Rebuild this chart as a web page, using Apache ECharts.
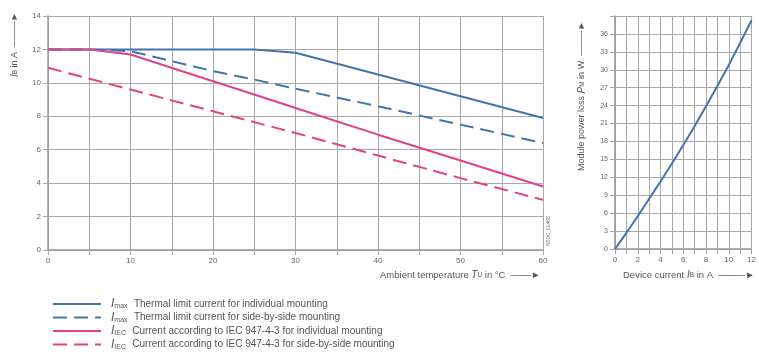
<!DOCTYPE html>
<html>
<head>
<meta charset="utf-8">
<script src="https://cdn.jsdelivr.net/npm/echarts@6/dist/echarts.min.js"></script>
<style>
  html, body { margin: 0; padding: 0; background: #fff; }
  #chart { width: 759px; height: 360px; }
</style>
</head>
<body>
<div id="chart"></div>
<script>
// left diagram: current vs ambient temperature
const ambientTemp = [0, 5, 10, 20, 25, 30, 40, 50, 60];
const imaxSingle = [12, 12, 12, 12, 12, 11.8, 10.5, 9.2, 7.9];
const imaxSide   = [12, 12, 11.9, 10.7, 10.2, 9.65, 8.6, 7.5, 6.4];
const iecSingle  = [12, 12, 11.7, 10.1, 9.3, 8.5, 6.9, 5.35, 3.8];
const iecSide    = [10.9, 10.25, 9.6, 8.3, 7.65, 7.0, 5.65, 4.3, 3.0];

// right diagram: module power loss vs device current
const deviceCurrent = [0, 1, 2, 3, 4, 5, 6, 7, 8, 9, 10, 11, 12];
const powerLoss = [0, 2.7, 5.5, 8.4, 11.3, 14.3, 17.4, 20.6, 23.9, 27.3, 30.8, 34.5, 38.3];

const legendNames = [
  'Imax individual', 'Imax side', 'IIEC individual', 'IIEC side'
];
const legendText = {
  'Imax individual': '{i|I}{s|max} {t|Thermal limit current for individual mounting}',
  'Imax side': '{i|I}{s|max} {t|Thermal limit current for side-by-side mounting}',
  'IIEC individual': '{i|I}{s|IEC} {t|Current according to IEC 947-4-3 for individual mounting}',
  'IIEC side': '{i|I}{s|IEC} {t|Current according to IEC 947-4-3 for side-by-side mounting}'
};

const blue = '#4374ad';
const pink = '#e0418a';
const gridCol = '#a8a8a8';
const font = 'Liberation Sans';

function pairs(xs, ys) {
  return xs.map((x, i) => [x, ys[i]]);
}

function axisCommon() {
  return {
    type: 'value',
    axisLine: { show: true, lineStyle: { color: '#999', width: 1.5 } },
    axisTick: { show: true, length: 5, lineStyle: { color: gridCol } },
    splitLine: { show: true, lineStyle: { color: gridCol, width: 1 } },
    axisLabel: { color: '#666', fontSize: 8, fontFamily: font, margin: 7 }
  };
}

// rich styles for axis titles with italic symbol + subscript
const nameRich = {
  i: { fontStyle: 'italic', fontSize: 10, fill: '#555', fontFamily: font },
  s: { fontSize: 6.5, fill: '#555', fontFamily: font }
};

const chart = echarts.init(document.getElementById('chart'));

const option = {
  animation: false,
  backgroundColor: '#fff',
  grid: [
    { left: 48, top: 16, width: 495, height: 234 },
    { left: 615, top: 16, width: 139, height: 233 }
  ],
  xAxis: [
    Object.assign(axisCommon(), {
      gridIndex: 0, min: 0, max: 60, interval: 5,
      axisLabel: { color: '#666', fontSize: 8, fontFamily: font, margin: 7,
        formatter: v => (v % 10 === 0 ? v : '') }
    }),
    Object.assign(axisCommon(), {
      gridIndex: 1, min: 0, max: 12, interval: 1,
      axisLabel: { color: '#666', fontSize: 8, fontFamily: font, margin: 7,
        formatter: v => (v % 2 === 0 ? v : '') }
    })
  ],
  yAxis: [
    Object.assign(axisCommon(), { gridIndex: 0, min: 0, max: 14, interval: 2 }),
    Object.assign(axisCommon(), {
      gridIndex: 1, min: 0, max: 39, interval: 3,
      axisLabel: { color: '#666', fontSize: 7, fontFamily: font, margin: 7,
        formatter: v => (v === 39 ? '' : v) }
    })
  ],
  legend: {
    orient: 'vertical',
    left: 52,
    top: 298,
    height: 62,
    padding: 0,
    itemWidth: 48,
    itemHeight: 8,
    itemGap: 1.5,
    itemStyle: { opacity: 0 },
    data: legendNames,
    formatter: name => legendText[name],
    textStyle: {
      padding: [0, 0, 0, 5],
      rich: {
        i: { fontSize: 12, fontStyle: 'italic', color: '#555', fontFamily: font, lineHeight: 12 },
        s: { fontSize: 7, color: '#555', fontFamily: font, padding: [5, 3, 0, 0], lineHeight: 12 },
        t: { fontSize: 10, color: '#555', fontFamily: font, lineHeight: 12 }
      }
    }
  },
  graphic: [
    { type: 'text', x: 15, y: 77, rotation: Math.PI / 2,
      style: { text: '{i|I}{s|B} in A  ────►', align: 'left', verticalAlign: 'middle',
        fill: '#555', font: '9px ' + font, rich: nameRich } },
    { type: 'text', x: 380, y: 275,
      style: { text: 'Ambient temperature {i|T}{s|U} in °C  ───►', align: 'left', verticalAlign: 'middle',
        fill: '#555', font: '9.5px ' + font, rich: nameRich } },
    { type: 'text', x: 582, y: 171, rotation: Math.PI / 2,
      style: { text: 'Module power loss {i|P}{s|M} in W  ────►', align: 'left', verticalAlign: 'middle',
        fill: '#555', font: '9px ' + font, rich: nameRich } },
    { type: 'text', x: 623, y: 275,
      style: { text: 'Device current {i|I}{s|B} in A  ────►', align: 'left', verticalAlign: 'middle',
        fill: '#555', font: '9.5px ' + font, rich: nameRich } },
    { type: 'text', x: 549, y: 246, rotation: Math.PI / 2,
      style: { text: 'NSB0_01468', align: 'left', verticalAlign: 'middle', fill: '#777', font: '5px ' + font } }
  ],
  series: [
    { name: 'Imax individual', type: 'line', xAxisIndex: 0, yAxisIndex: 0, symbol: 'none',
      data: pairs(ambientTemp, imaxSingle), lineStyle: { color: blue, width: 2 }, itemStyle: { color: blue } },
    { name: 'Imax side', type: 'line', xAxisIndex: 0, yAxisIndex: 0, symbol: 'none',
      data: pairs(ambientTemp, imaxSide), lineStyle: { color: blue, width: 2, type: [14, 7] }, itemStyle: { color: blue } },
    { name: 'IIEC individual', type: 'line', xAxisIndex: 0, yAxisIndex: 0, symbol: 'none',
      data: pairs(ambientTemp, iecSingle), lineStyle: { color: pink, width: 2 }, itemStyle: { color: pink } },
    { name: 'IIEC side', type: 'line', xAxisIndex: 0, yAxisIndex: 0, symbol: 'none',
      data: pairs(ambientTemp, iecSide), lineStyle: { color: pink, width: 2, type: [14, 7] }, itemStyle: { color: pink } },
    { name: 'Power loss', type: 'line', xAxisIndex: 1, yAxisIndex: 1, symbol: 'none', smooth: 0.3,
      data: pairs(deviceCurrent, powerLoss), lineStyle: { color: blue, width: 2 }, itemStyle: { color: blue } }
  ]
};

chart.setOption(option);
</script>
</body>
</html>
